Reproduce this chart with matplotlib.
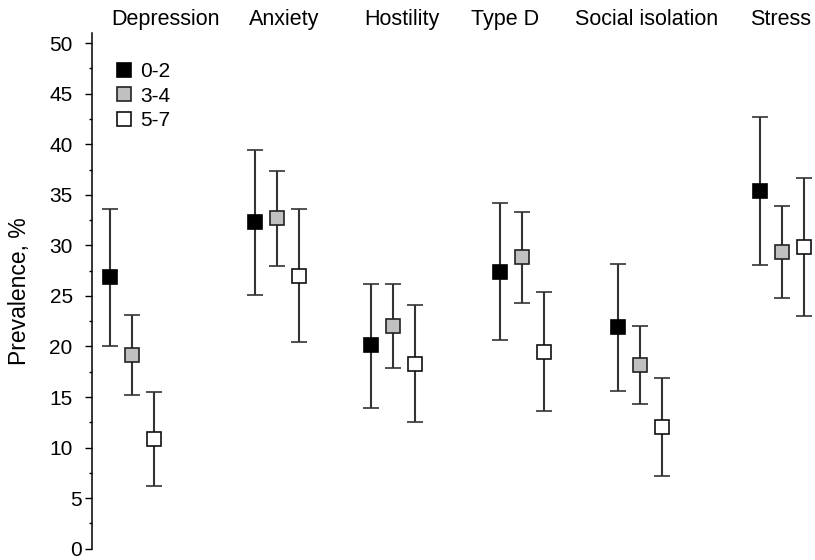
import numpy as np
import matplotlib
matplotlib.use("Agg")
import matplotlib.pyplot as plt
from matplotlib.ticker import MultipleLocator
from matplotlib.transforms import ScaledTranslation

plt.rcParams['font.family'] = ['Liberation Sans', 'DejaVu Sans']

# Prevalence (%) with 95% CI, by score group
categories = ['Depression', 'Anxiety', 'Hostility', 'Type D', 'Social isolation', 'Stress']
groups = ['0-2', '3-4', '5-7']

prev_02 = [26.85, 32.3, 20.1, 27.4, 21.9, 35.35]
low_02 = [20.0, 25.1, 13.95, 20.6, 15.6, 28.05]
high_02 = [33.6, 39.4, 26.2, 34.2, 28.2, 42.65]

prev_34 = [19.15, 32.7, 22.0, 28.8, 18.15, 29.35]
low_34 = [15.2, 28.0, 17.9, 24.25, 14.3, 24.8]
high_34 = [23.1, 37.35, 26.2, 33.3, 22.0, 33.9]

prev_57 = [10.85, 26.95, 18.3, 19.5, 12.0, 29.85]
low_57 = [6.2, 20.4, 12.55, 13.6, 7.2, 23.05]
high_57 = [15.5, 33.55, 24.1, 25.4, 16.85, 36.65]

# layout: cluster centres and header positions along x
centres = np.array([1.82, 8.4, 13.68, 19.55, 24.92, 31.36])
header_x = [0.86, 7.14, 12.36, 17.23, 21.95, 29.9]
fills = ['black', '#c0c0c0', 'white']
edges = ['black', '#222222', '#111111']

fig = plt.figure(figsize=(8.15, 5.6), dpi=100)
ax = fig.add_axes([92 / 815, 11.3 / 560, 723 / 815, 515.7 / 560])

series = [(prev_02, low_02, high_02), (prev_34, low_34, high_34), (prev_57, low_57, high_57)]
for i, (p, lo, hi) in enumerate(series):
    p = np.array(p)
    err = [p - np.array(lo), np.array(hi) - p]
    ax.errorbar(centres + (i - 1), p, yerr=err, fmt='s', color='#333333',
                ecolor='#333333', elinewidth=1.5, capsize=5.5, capthick=1.5,
                markersize=10, markerfacecolor=fills[i], markeredgecolor=edges[i],
                markeredgewidth=1.2, label=groups[i])

for name, x in zip(categories, header_x):
    ax.text(x, 51.83, name, fontsize=15.5, ha='left', va='baseline', clip_on=False)

ax.set_xlim(0, 32.86)
ax.set_ylim(0, 51)
ax.yaxis.set_major_locator(MultipleLocator(5))
ax.yaxis.set_minor_locator(MultipleLocator(2.5))
ax.set_yticks(np.arange(0, 51, 5))
ax.tick_params(axis='y', which='major', length=5, width=1, pad=8.9, labelsize=15)
ax.tick_params(axis='y', which='minor', length=2.5, width=1)
ax.set_xticks([])
for s in ['top', 'right', 'bottom']:
    ax.spines[s].set_visible(False)
ax.spines['left'].set_linewidth(1.1)

# single-digit labels sit closer to the axis
for lab, v in zip(ax.get_yticklabels(), ax.get_yticks()):
    if v < 10:
        lab.set_transform(lab.get_transform() + ScaledTranslation(9 / 100, 0, fig.dpi_scale_trans))

ax.set_ylabel('Prevalence, %', fontsize=16.5)
ax.yaxis.set_label_coords(-0.0844, 0.499)

handles, labels = ax.get_legend_handles_labels()
handles = [h[0] for h in handles]
ax.legend(handles, labels, loc='upper left', bbox_to_anchor=(0.0337, 0.944),
          frameon=False, fontsize=15, handlelength=0.7, handletextpad=0.43,
          labelspacing=0.27, borderaxespad=0, borderpad=0)

fig.savefig('out.png', dpi=100)
